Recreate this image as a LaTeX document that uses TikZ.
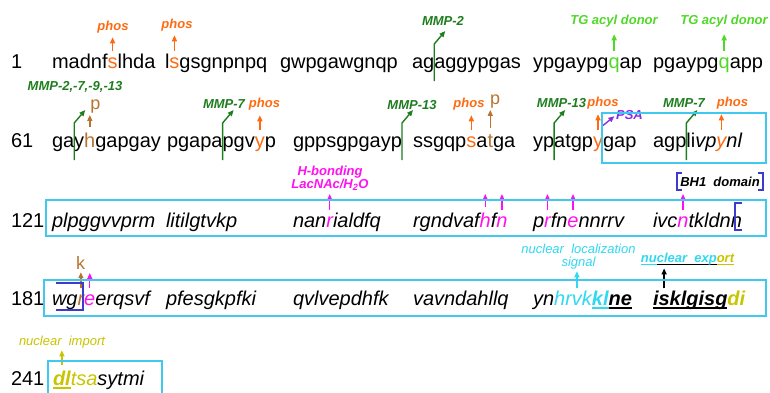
\documentclass[tikz,border=0pt]{standalone}
\usepackage{fontspec}
\setmainfont{Liberation Sans}
\usetikzlibrary{arrows.meta,calc}

\definecolor{phos}{HTML}{FF6A10}
\definecolor{brn}{HTML}{B8742F}
\definecolor{mmp}{HTML}{1E7D1E}
\definecolor{tg}{HTML}{50D828}
\definecolor{mag}{HTML}{FF10F0}
\definecolor{psa}{HTML}{8A2BE2}
\definecolor{nls}{HTML}{30D8F0}
\definecolor{boxc}{HTML}{40C8EE}
\definecolor{imp}{HTML}{C8C400}
\definecolor{brk}{HTML}{3C3CCC}

% coloured underline: colour, depth, thickness, text
\newcommand\ulc[4]{\setbox0=\hbox{#4}\rlap{\color{#1}\rule[-#2]{\wd0}{#3}}\box0}
% cleavage-site arrow rising from the gap after a residue node
\newcommand\cutarrow[1]{\draw[cut] ($(#1.base east)+(0,13)$) -- ++(0,-37) -- ++(11,-13);}

\tikzset{
  seq/.style={font=\fontsize{20}{24}\selectfont, inner sep=0pt, outer sep=0pt, anchor=base west},
  iseq/.style={seq, font=\fontsize{20}{24}\selectfont\itshape},
  bseq/.style={seq, font=\fontsize{20}{24}\selectfont\bfseries\itshape},
  num/.style={seq},
  lab/.style={font=\fontsize{13}{13}\selectfont\bfseries\itshape, inner sep=0pt},
  slab/.style={font=\fontsize{13}{13}\selectfont\itshape, inner sep=0pt},
  plab/.style={font=\fontsize{18}{20}\selectfont, inner sep=0pt, anchor=base, text=brn},
  tip/.style={-{Triangle[length=6pt,width=5pt]}},
  arr/.style={tip, line width=1.4pt, shorten <=6pt, shorten >=4pt},
  cut/.style={tip, line width=1.4pt, draw=mmp},
  seqbox/.style={draw=boxc, line width=1.5pt},
  brack/.style={draw=brk, line width=1.4pt},
}

\begin{document}
\begin{tikzpicture}[x=1pt,y=-1pt]
\useasboundingbox (0,0) rectangle (770,392);

% ---------------- residues 1-60 ----------------
\node[num] (n1) at (11,68) {1};
\node[seq] (r1a1) at (52,68) {madnf};
\node[seq,text=phos] (r1s1) at (r1a1.base east) {s};
\node[seq] (r1a2) at (r1s1.base east) {lhda};
\node[seq] (r1b1) at (165,68) {l};
\node[seq,text=phos] (r1s2) at (r1b1.base east) {s};
\node[seq] (r1b2) at (r1s2.base east) {gsgnpnpq};
\node[seq] (r1c) at (280,68) {gwpgawgnqp};
\node[seq] (r1d1) at (412,68) {ag};
\node[seq] (r1d2) at (r1d1.base east) {aggypgas};
\node[seq] (r1e1) at (533,68) {ypgaypg};
\node[seq,text=tg] (r1q1) at (r1e1.base east) {q};
\node[seq] (r1e2) at (r1q1.base east) {ap};
\node[seq] (r1f1) at (653,68) {pgaypg};
\node[seq,text=tg] (r1q2) at (r1f1.base east) {q};
\node[seq] (r1f2) at (r1q2.base east) {app};

\node[lab,text=phos] (l1) at (113,27) {phos};
\node[lab,text=phos] (l2) at (177,25) {phos};
\node[lab,text=mmp] (l3) at (443,21) {MMP-2};
\node[lab,text=tg] (l4) at (614,21) {TG acyl donor};
\node[lab,text=tg] (l5) at (724,21) {TG acyl donor};

\draw[arr,phos] (r1s1.north) -- (r1s1.north |- l1.south);
\draw[arr,phos] (r1s2.north) -- (r1s2.north |- l2.south);
\draw[arr,tg,shorten >=7pt] (r1q1.north) -- (r1q1.north |- l4.south);
\draw[arr,tg,shorten >=7pt] (r1q2.north) -- (r1q2.north |- l5.south);
\cutarrow{r1d1}

% ---------------- residues 61-120 ----------------
\node[num] (n2) at (11,147) {61};
\node[seq] (r2a1) at (52,147) {ga};
\node[seq] (r2a2) at (r2a1.base east) {y};
\node[seq,text=brn] (r2h) at (r2a2.base east) {h};
\node[seq] (r2a3) at (r2h.base east) {gapgay};
\node[seq] (r2b1) at (167,147) {pgapa};
\node[seq] (r2b2) at (r2b1.base east) {pgv};
\node[seq,text=phos] (r2y1) at (r2b2.base east) {y};
\node[seq] (r2b3) at (r2y1.base east) {p};
\node[seq] (r2c) at (293,147) {gppsgpgayp};
\node[seq] (r2d1) at (413,147) {ssgqp};
\node[seq,text=phos] (r2s) at (r2d1.base east) {s};
\node[seq] (r2d2) at (r2s.base east) {a};
\node[seq,text=brn] (r2t) at (r2d2.base east) {t};
\node[seq] (r2d3) at (r2t.base east) {ga};
\node[seq] (r2e1) at (533,147) {yp};
\node[seq] (r2e2) at (r2e1.base east) {atgp};
\node[seq,text=phos] (r2y2) at (r2e2.base east) {y};
\node[seq] (r2e3) at (r2y2.base east) {gap};
\node[seq] (r2f1) at (653,147) {agp};
\node[seq] (r2f2) at (r2f1.base east) {li};
\node[iseq] (r2f3) at (r2f2.base east) {vp};
\node[iseq,text=phos] (r2y3) at (r2f3.base east) {y};
\node[iseq] (r2f4) at (r2y3.base east) {nl};

\node[lab,text=mmp] (m1) at (75,87) {MMP-2,-7,-9,-13};
\node[plab] (p1) at (95.5,109) {p};
\node[lab,text=mmp] (m2) at (224,104) {MMP-7};
\node[lab,text=phos] (ph3) at (264.5,104) {phos};
\node[lab,text=mmp] (m3) at (412,105) {MMP-13};
\node[lab,text=phos] (ph4) at (469,104) {phos};
\node[plab] (p2) at (495,104) {p};
\node[lab,text=mmp] (m4) at (561.5,103) {MMP-13};
\node[lab,text=phos] (ph5) at (603,103) {phos};
\node[lab,text=psa] (psalab) at (629.5,115) {PSA};
\node[lab,text=mmp] (m5) at (684,103) {MMP-7};
\node[lab,text=phos] (ph6) at (732.5,103) {phos};

\draw[arr,brn,shorten >=2pt] (r2h.north) -- (r2h.north |- p1.south);
\draw[arr,phos,shorten >=5pt] (r2y1.north) -- (r2y1.north |- ph3.south);
\draw[arr,phos,shorten >=5pt] (r2s.north) -- (r2s.north |- ph4.south);
\draw[arr,brn,shorten >=2pt] (r2t.north) -- (r2t.north |- p2.south);
\draw[arr,phos,shorten >=5pt] (r2y2.north) -- (r2y2.north |- ph5.south);
\draw[arr,psa,shorten <=0pt,shorten >=2pt] ([yshift=11pt]r2y2.north east) -- (psalab.west);
\draw[arr,phos,shorten >=5pt] (r2y3.north) -- (r2y3.north |- ph6.south);
\cutarrow{r2a1}
\cutarrow{r2b1}
\cutarrow{r2c}
\cutarrow{r2e1}
\cutarrow{r2f1}

\draw[seqbox] (602,113) rectangle (766,163);

% ---------------- residues 121-180 ----------------
\node[num] (n3) at (11,227) {121};
\node[iseq] (r3a) at (52,227) {plpggvvprm};
\node[iseq] (r3b) at (166,227) {litilgtvkp};
\node[iseq] (r3c1) at (293,227) {nan};
\node[iseq,text=mag] (r3r1) at (r3c1.base east) {r};
\node[iseq] (r3c2) at (r3r1.base east) {ialdfq};
\node[iseq] (r3d1) at (413,227) {rgndvaf};
\node[iseq,text=mag] (r3h) at (r3d1.base east) {h};
\node[iseq] (r3d2) at (r3h.base east) {f};
\node[iseq,text=mag] (r3n1) at (r3d2.base east) {n};
\node[iseq] (r3e1) at (533,227) {p};
\node[iseq,text=mag] (r3r2) at (r3e1.base east) {r};
\node[iseq] (r3e2) at (r3r2.base east) {fn};
\node[iseq,text=mag] (r3e) at (r3e2.base east) {e};
\node[iseq] (r3e3) at (r3e.base east) {nnrrv};
\node[iseq] (r3f1) at (653,227) {ivc};
\node[iseq,text=mag] (r3n2) at (r3f1.base east) {n};
\node[iseq] (r3f2) at (r3n2.base east) {tkldn};
\node[iseq] (r3f3) at (r3f2.base east) {n};

\node[lab,text=mag,align=center] (hb) at (330,178.5) {H-bonding\\LacNAc/H\textsubscript{2}O};
\node[lab] (bh1) at (720,182) {BH1\ \ domain};
\coordinate (r3tip) at (0,194);
\foreach \r in {r3r1,r3h,r3n1,r3r2,r3e,r3n2}
  \draw[arr,mag,shorten >=0pt] (\r.north) -- (\r.north |- r3tip);

\draw[brack] (682,173) -- (677,173) -- (677,190) -- (682,190);
\draw[brack] (758,173) -- (763,173) -- (763,190) -- (758,190);
\draw[brack] (742,203) -- (735,203) -- (735,230) -- (742,230);
\draw[seqbox] (46,200) rectangle (766,236);

% ---------------- residues 181-240 ----------------
\node[num] (n4) at (11,305) {181};
\node[iseq] (r4a1) at (52,305) {wg};
\node[iseq,text=brn] (r4r) at (r4a1.base east) {r};
\node[iseq,text=mag] (r4e) at (r4r.base east) {e};
\node[iseq] (r4a2) at (r4e.base east) {erqsvf};
\node[iseq] (r4b) at (166,305) {pfesgkpfki};
\node[iseq] (r4c) at (293,305) {qvlvepdhfk};
\node[iseq] (r4d) at (413,305) {vavndahllq};
\node[iseq] (r4e1) at (533,305) {yn};
\node[iseq,text=nls] (r4e2) at (r4e1.base east) {hr};
\node[iseq,text=nls] (r4v) at (r4e2.base east) {v};
\node[iseq,text=nls] (r4e3) at (r4v.base east) {k};
\node[bseq,text=nls] (r4e4) at (r4e3.base east) {\ulc{nls}{4pt}{1.8pt}{kl}};
\node[bseq] (r4e5) at (r4e4.base east) {\ulc{black}{4pt}{1.8pt}{ne}};
\node[bseq] (r4f1) at (653,305) {\ulc{black}{4pt}{1.8pt}{i}};
\node[bseq] (r4s) at (r4f1.base east) {\ulc{black}{4pt}{1.8pt}{s}};
\node[bseq] (r4f2) at (r4s.base east) {\ulc{black}{4pt}{1.8pt}{klgisg}};
\node[bseq,text=imp] (r4f3) at (r4f2.base east) {di};

\node[plab] (k1) at (80.5,269) {k};
\node[slab,text=nls,align=center] (nlslab) at (578.5,256.5) {nuclear\ \ localization\\signal};
\node[lab] (nex) at (687.5,259) {\ulc{nls}{3pt}{1.3pt}{\color{nls}nu}\ulc{black}{3pt}{1.3pt}{clear\ \ exp}\ulc{imp}{3pt}{1.3pt}{\color{imp}ort}};
\coordinate (r4tip) at (0,273);

\draw[arr,brn,shorten >=3pt] (r4r.north) -- (r4r.north |- k1.south);
\draw[arr,mag,shorten >=0pt] (r4e.north) -- (r4e.north |- r4tip);
\draw[arr,nls,shorten >=2pt] (r4v.north) -- (r4v.north |- nlslab.south);
\draw[arr,black,shorten >=3pt] (r4s.north) -- (r4s.north |- nex.south);

\draw[brack] (56,283) -- (83,283) -- (83,310) -- (56,310);
\draw[seqbox] (44,280) rectangle (766,316);

% ---------------- residues 241-250 ----------------
\node[num] (n5) at (11,385) {241};
\node[bseq,text=imp] (r5a) at (53,385) {\ulc{imp}{4pt}{1.8pt}{dl}};
\node[iseq,text=imp] (r5b) at (r5a.base east) {tsa};
\node[iseq] (r5c) at (r5b.base east) {sytmi};
\node[slab,text=imp] (nim) at (62,342) {nuclear\ \ import};
\draw[arr,imp,shorten >=2pt] (r5a.north) -- (r5a.north |- nim.south);
\draw[seqbox] (48,395) -- (48,361) -- (162,361) -- (162,395);

\end{tikzpicture}
\end{document}
